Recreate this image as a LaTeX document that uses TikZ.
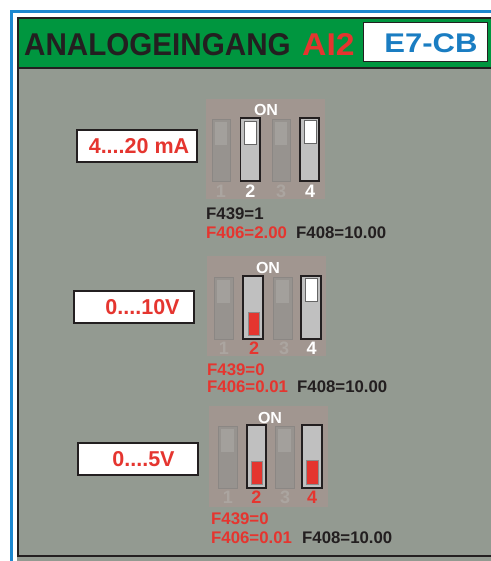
\documentclass[tikz,border=0pt]{standalone}
\usepackage{fontspec}
\setmainfont{Liberation Sans}
\definecolor{bgray}{HTML}{939A91}
\definecolor{hgreen}{HTML}{00963F}
\definecolor{fblue}{HTML}{1B87CF}
\definecolor{tred}{HTML}{E5352F}
\definecolor{tblack}{HTML}{231F20}
\definecolor{eblue}{HTML}{1A7DC2}
\definecolor{dipbody}{HTML}{A19690}
\definecolor{dimsw}{HTML}{97938F}
\definecolor{dimsq}{HTML}{A3A09C}
\definecolor{dimnum}{HTML}{ABA5A0}
\definecolor{swgray}{HTML}{C0C0C0}
\begin{document}
\begin{tikzpicture}[x=1pt,y=-1pt,
  dimswitch/.style={fill=dimsw, draw=dimsw!92!black, line width=0.6pt},
  onswitch/.style={fill=swgray, draw=tblack, line width=1.2pt},
  knobw/.style={fill=white, draw=black!60, line width=0.4pt},
  knobr/.style={fill=tred, draw=black!45, line width=0.4pt},
  lblbox/.style={draw=tblack, fill=white, line width=1.2pt, inner sep=0pt},
  lbltext/.style={text=tred, inner sep=0pt, font=\fontsize{21.5}{22}\selectfont\bfseries},
  ftext/.style={anchor=west, inner sep=0pt, font=\fontsize{16.8}{17}\selectfont\bfseries},
  ontext/.style={text=white, inner sep=0pt, font=\fontsize{16}{16}\selectfont\bfseries},
  numtext/.style={inner sep=0pt, font=\fontsize{18}{18}\selectfont\bfseries},
  ]
\useasboundingbox (0,0) rectangle (490,561);
\fill[white] (0,0) rectangle (490,561);
% frame
\fill[bgray] (17,17) rectangle (495,561);
\fill[hgreen] (17,17) rectangle (495,68);
\draw[tblack, line width=1.2pt] (17,68) -- (495,68);
\draw[tblack, line width=1.6pt] (17.8,556) -- (17.8,17.8) -- (495,17.8);
\draw[tblack, line width=2pt] (17,555.5) -- (495,555.5);
\draw[fblue, line width=2.4pt] (11.5,562) -- (11.5,11.5) -- (495,11.5);
% header
\node[anchor=base west, inner sep=0pt, text=tblack, font=\fontsize{31.5}{32}\selectfont\bfseries, xscale=0.94] (title) at (24,56) {ANALOGEINGANG};
\node[anchor=base west, inner sep=0pt, text=tred, font=\fontsize{31.5}{32}\selectfont\bfseries, xscale=1.07] (ai) at (302,56) {AI2};
\draw[tblack, fill=white, line width=1pt] (363,23) rectangle (487,62);
\node[inner sep=0pt, text=eblue, font=\fontsize{27}{27}\selectfont\bfseries, xscale=1.15] (ecb) at (431,43) {E7-CB};
% labels
\draw[lblbox] (77,130) rectangle (197,162);
\node[lbltext] (l1) at (139,146) {4....20 mA};
\draw[lblbox] (74,291) rectangle (194,323);
\node[lbltext] (l2) at (142.5,307) {0....10V};
\draw[lblbox] (78,443) rectangle (198,475);
\node[lbltext] (l3) at (143.5,459) {0....5V};
% DIP 1
\begin{scope}[shift={(206,99)}]
  \fill[dipbody] (0,0) rectangle (119,100);
  \node[ontext] (d1on) at (60,11) {ON};
  \draw[dimswitch] (6,20) rectangle (24,82);
  \fill[dimsq] (9,23) rectangle (21,46);
  \draw[dimswitch] (66,20) rectangle (84,82);
  \fill[dimsq] (69,23) rectangle (81,46);
  \draw[onswitch] (34.5,19) rectangle (54,82);
  \draw[knobw] (38.5,22) rectangle (50,45);
  \draw[onswitch] (94,19) rectangle (113,82);
  \draw[knobw] (98,21.5) rectangle (110,44.5);
  \node[numtext, text=dimnum] (d1n1) at (15,92) {1};
  \node[numtext, text=white] (d1n2) at (44.5,92) {2};
  \node[numtext, text=dimnum] (d1n3) at (75,92) {3};
  \node[numtext, text=white] (d1n4) at (104,92) {4};
  \node[ftext, text=tblack] (d1a) at (0,115) {F439=1};
  \node[ftext, text=tred] (d1b) at (0,134) {F406=2.00};
  \node[ftext, text=tblack] (d1c) at (90,134) {F408=10.00};
\end{scope}
% DIP 2
\begin{scope}[shift={(207,256)}]
  \fill[dipbody] (0,0) rectangle (119,100);
  \node[ontext] (d2on) at (61,12) {ON};
  \draw[dimswitch] (7,21) rectangle (26,83);
  \fill[dimsq] (10,24) rectangle (23,47);
  \draw[dimswitch] (66,21) rectangle (85,83);
  \fill[dimsq] (69,24) rectangle (82,47);
  \draw[onswitch] (36,20) rectangle (56,83);
  \draw[knobr] (41,56) rectangle (52,79);
  \draw[onswitch] (94,20) rectangle (114,83);
  \draw[knobw] (98,22.5) rectangle (110,45.5);
  \node[numtext, text=dimnum] (d2n1) at (17,92) {1};
  \node[numtext, text=tred] (d2n2) at (47,92) {2};
  \node[numtext, text=dimnum] (d2n3) at (77,92) {3};
  \node[numtext, text=white] (d2n4) at (104.5,92) {4};
  \node[ftext, text=tred] (d2a) at (0,114) {F439=0};
  \node[ftext, text=tred] (d2b) at (0,131) {F406=0.01};
  \node[ftext, text=tblack] (d2c) at (90,131) {F408=10.00};
\end{scope}
% DIP 3
\begin{scope}[shift={(209,406)}]
  \fill[dipbody] (0,0) rectangle (119,101);
  \node[ontext] (d3on) at (61,12) {ON};
  \draw[dimswitch] (9,20) rectangle (28,82);
  \fill[dimsq] (12,23) rectangle (25,46);
  \draw[dimswitch] (66,20) rectangle (85,82);
  \fill[dimsq] (69,23) rectangle (82,46);
  \draw[onswitch] (38,19) rectangle (57,82);
  \draw[knobr] (42.5,55) rectangle (53,78);
  \draw[onswitch] (93,19) rectangle (113,82);
  \draw[knobr] (97.5,54) rectangle (109,78);
  \node[numtext, text=dimnum] (d3n1) at (19,91) {1};
  \node[numtext, text=tred] (d3n2) at (47.5,91) {2};
  \node[numtext, text=dimnum] (d3n3) at (76,91) {3};
  \node[numtext, text=tred] (d3n4) at (103,91) {4};
  \node[ftext, text=tred] (d3a) at (2,113) {F439=0};
  \node[ftext, text=tred] (d3b) at (2,132) {F406=0.01};
  \node[ftext, text=tblack] (d3c) at (93,132) {F408=10.00};
\end{scope}
\end{tikzpicture}
\end{document}
